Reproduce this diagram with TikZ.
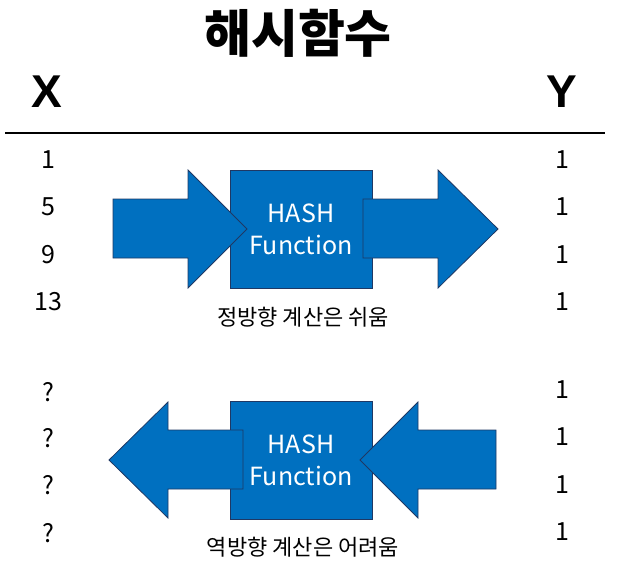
\documentclass[tikz,border=0pt]{standalone}
\usepackage{fontspec}
\setmainfont{Noto Sans CJK KR}
\newfontfamily\headfont{Liberation Sans}
\usetikzlibrary{positioning}
\definecolor{hashblue}{HTML}{0070C0}
\definecolor{hashedge}{HTML}{1F3864}
\tikzset{
    hashbox/.style={draw=hashedge,line width=0.8pt,fill=hashblue,
        minimum width=142pt,minimum height=118pt,inner sep=0pt},
    hashtext/.style={text=white,align=center,font=\fontsize{25}{32}\selectfont},
    blockarrow/.style={draw=hashedge,line width=0.8pt,fill=hashblue,line join=miter},
    value/.style={font=\fontsize{25}{30}\selectfont},
    note/.style={font=\fontsize{22}{26}\selectfont},
}

\begin{document}
\begin{tikzpicture}[x=1pt,y=-1pt]
        \useasboundingbox (0,0) rectangle (620,570);

        \node (title) at (298,33) {\fontsize{51}{56}\selectfont\bfseries 해시함수};
        \node (xhead) at (47,92)  {\headfont\bfseries\fontsize{46}{50}\selectfont X};
        \node (yhead) at (562,92) {\headfont\bfseries\fontsize{46}{50}\selectfont Y};

        \coordinate (ruleL) at (5,133);
        \coordinate (ruleR) at (605,133);
        \draw[line width=1.2pt] (ruleL) -- (ruleR);

        % forward: easy
        \node[hashbox] (hashfw) at (301,229) {};
        \draw[blockarrow] (113,199) -- (188,199) -- (188,170) -- (247,229)
            -- (188,288) -- (188,258) -- (113,258) -- cycle;
        \draw[blockarrow] (363,199) -- (438,199) -- (438,170) -- (498,229)
            -- (438,288) -- (438,258) -- (363,258) -- cycle;
        \node[hashtext] (fwlabel) at (hashfw) {HASH\\Function};
        \node[note]     (fwnote)  at (303,317) {정방향 계산은 쉬움};

        % backward: hard
        \node[hashbox] (hashbw) at (301,460) {};
        \draw[blockarrow] (243,430) -- (168,430) -- (168,402) -- (109,460)
            -- (168,518) -- (168,489) -- (243,489) -- cycle;
        \draw[blockarrow] (496,430) -- (418,430) -- (418,402) -- (360,460)
            -- (418,518) -- (418,489) -- (496,489) -- cycle;
        \node[hashtext] (bwlabel) at (hashbw) {HASH\\Function};
        \node[note]     (bwnote)  at (303,547) {역방향 계산은 어려움};

        \foreach \v/\y [count=\i] in {1/160,5/207,9/255,13/302}
            \node[value] (xfw\i) at (48,\y) {\v};
        \foreach \y [count=\i] in {160,207,255,302}
            \node[value] (yfw\i) at (562,\y) {1};
        \foreach \y [count=\i] in {392,438,485,533}
            \node[value] (xbw\i) at (48,\y) {?};
        \foreach \y [count=\i] in {390,437,485,532}
            \node[value] (ybw\i) at (562,\y) {1};
    \end{tikzpicture}
\end{document}
